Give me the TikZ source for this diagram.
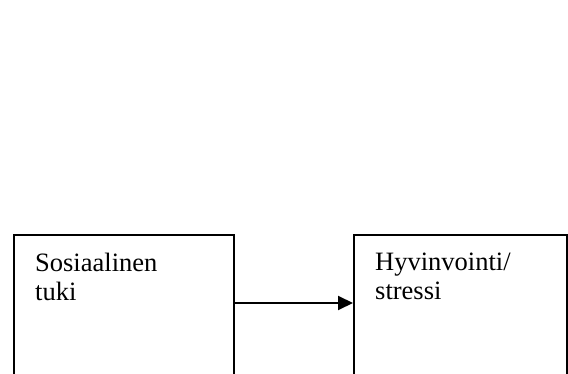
\documentclass[tikz,border=0pt]{standalone}
\usepackage{fontspec}
\setmainfont{Liberation Serif}
\usetikzlibrary{arrows.meta}
\begin{document}
\begin{tikzpicture}[x=1pt,y=1pt,
  box/.style={draw=black,line width=2pt,minimum height=148pt,inner sep=0pt},
  lbl/.style={anchor=north west,inner sep=0pt,align=left,font=\fontsize{26.5}{29}\selectfont},
  conn/.style={line width=2pt,-{Triangle[length=15pt,width=14pt]}}]
\useasboundingbox (0,0) rectangle (568,373);
\clip (0,0) rectangle (568,373);
\node[box,minimum width=220pt] (sos) at (124,64) {};
\node[box,minimum width=213pt] (hyv) at (460.5,64) {};
\node[lbl] (sostxt) at (35,120.5) {Sosiaalinen\\tuki};
\node[lbl] (hyvtxt) at (375,120.5) {Hyvinvointi/\\stressi};
\coordinate (a) at (234,70);
\coordinate (b) at (354,70);
\draw[conn] (sos.east |- a) -- (hyv.west |- b);
\end{tikzpicture}
\end{document}
